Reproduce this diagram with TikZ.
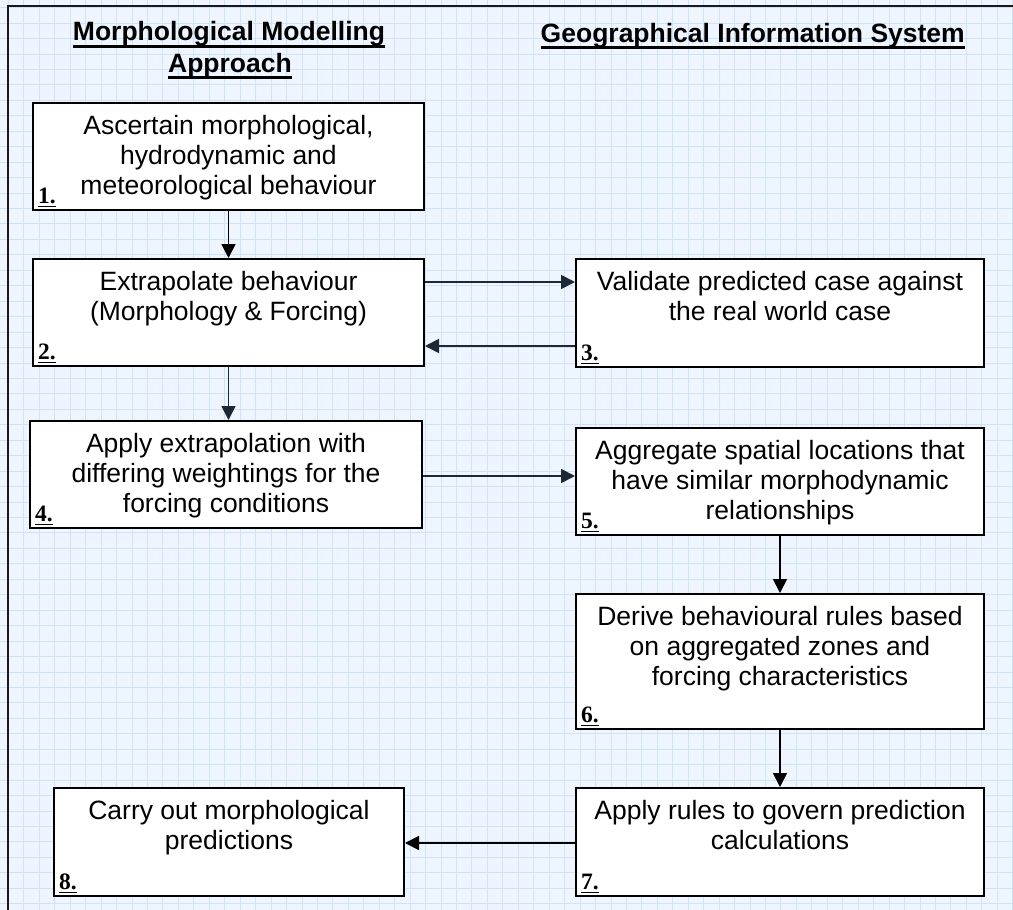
\documentclass[tikz,border=0pt]{standalone}
\usepackage{fontspec}
\setmainfont{Liberation Sans}
\newfontfamily\lserif{Liberation Serif}
\usetikzlibrary{arrows.meta,calc}
\definecolor{bgblue}{HTML}{EEF5FE}
\definecolor{gridblue}{HTML}{CFE2F6}
\definecolor{arrdark}{HTML}{1E2835}
\tikzset{
  boxnode/.style={draw=black, line width=2pt, fill=white, inner sep=0pt, anchor=north west},
  boxtxt/.style={font=\fontsize{26.5}{30}\selectfont, align=center, inner sep=0pt, anchor=north},
  numlbl/.style={font=\lserif\bfseries\fontsize{23.5}{26}\selectfont, inner sep=0pt, anchor=base west},
  titletxt/.style={font=\bfseries\fontsize{26.5}{30}\selectfont, inner sep=0pt, anchor=base},
  uline/.style={line width=2.2pt},
  lline/.style={line width=1.4pt},
  arr/.style={-{Triangle[length=14pt,width=14pt]}, line width=1.8pt, draw=arrdark},
  gridline/.style={draw=gridblue, line width=0.7pt},
}
\begin{document}
\begin{tikzpicture}[x=1pt,y=-1pt]
\useasboundingbox (0,0) rectangle (1013,910);
\fill[bgblue] (0,0) rectangle (1013,910);
\foreach \i in {0,...,65} \draw[gridline] ({8.3+15.45*\i},0) -- ++(0,910);
\foreach \j in {0,...,59} \draw[gridline] (0,{7.5+15.45*\j}) -- ++(1013,0);
\draw[line width=2.7pt, draw=black!90] (8,910) -- (8,6) -- (1013,6);

% titles
\node[titletxt] (ta1) at (229,41) {Morphological Modelling};
\node[titletxt] (ta2) at (230,72) {Approach};
\node[titletxt, anchor=base east] (tb) at (965,42) {Geographical Information System};
\foreach \t in {ta1,ta2,tb}
  \draw[uline] ([yshift=-5.5pt]\t.base west) -- ([yshift=-5.5pt]\t.base east);

% boxes
\node[boxnode, minimum width=391pt, minimum height=107pt] (b1) at (32,102) {};
\node[boxnode, minimum width=391pt, minimum height=107pt] (b2) at (32,258) {};
\node[boxnode, minimum width=408pt, minimum height=108pt] (b3) at (575,258) {};
\node[boxnode, minimum width=392pt, minimum height=107pt] (b4) at (29,420) {};
\node[boxnode, minimum width=408pt, minimum height=107pt] (b5) at (575,427) {};
\node[boxnode, minimum width=408pt, minimum height=135pt] (b6) at (575,593) {};
\node[boxnode, minimum width=408pt, minimum height=108pt] (b7) at (575,787) {};
\node[boxnode, minimum width=350pt, minimum height=108pt] (b8) at (53,787) {};

% box texts
\node[boxtxt] (t1) at ([yshift=-11pt]b1.north) {\strut Ascertain morphological,\\hydrodynamic and\\meteorological behaviour};
\node[boxtxt] (t2) at ([yshift=-11pt]b2.north) {\strut Extrapolate behaviour\\(Morphology \& Forcing)};
\node[boxtxt] (t3) at ([yshift=-11pt]b3.north) {\strut Validate predicted case against\\the real world case};
\node[boxtxt] (t4) at ([yshift=-11pt]b4.north) {\strut Apply extrapolation with\\differing weightings for the\\forcing conditions};
\node[boxtxt] (t5) at ([yshift=-11pt]b5.north) {\strut Aggregate spatial locations that\\have similar morphodynamic\\relationships};
\node[boxtxt] (t6) at ([yshift=-11pt]b6.north) {\strut Derive behavioural rules based\\on aggregated zones and\\forcing characteristics};
\node[boxtxt] (t7) at ([yshift=-11pt]b7.north) {\strut Apply rules to govern prediction\\calculations};
\node[boxtxt] (t8) at ([yshift=-11pt]b8.north) {\strut Carry out morphological\\predictions};

% number labels
\foreach \b/\n in {b1/1,b2/2,b3/3,b4/4,b5/5,b6/6,b7/7,b8/8}{
  \node[numlbl] (l\n) at ([xshift=6pt,yshift=8pt]\b.south west) {\n.};
  \draw[lline] ([yshift=-3.5pt]l\n.base west) -- ([yshift=-3.5pt]l\n.base east);
}

% connectors
\draw[arr, draw=black] (b1.south) -- (b2.north);
\coordinate (a23) at ($(b2.north east)+(0,24)$);
\draw[arr] (a23) -- (a23 -| b3.west);
\coordinate (a32) at ($(b3.south west)+(0,-22)$);
\draw[arr] (a32) -- (a32 -| b2.east);
\draw[arr] (b2.south) -- (b2.south |- b4.north);
\coordinate (a45) at ($(b4.north east)+(0,56)$);
\draw[arr] (a45) -- (a45 -| b5.west);
\draw[arr, draw=black] (b5.south) -- (b6.north);
\draw[arr, draw=black] (b6.south) -- (b7.north);
\coordinate (a78) at ($(b7.north west)+(0,56)$);
\draw[arr, draw=black] (a78) -- (a78 -| b8.east);
\end{tikzpicture}
\end{document}
